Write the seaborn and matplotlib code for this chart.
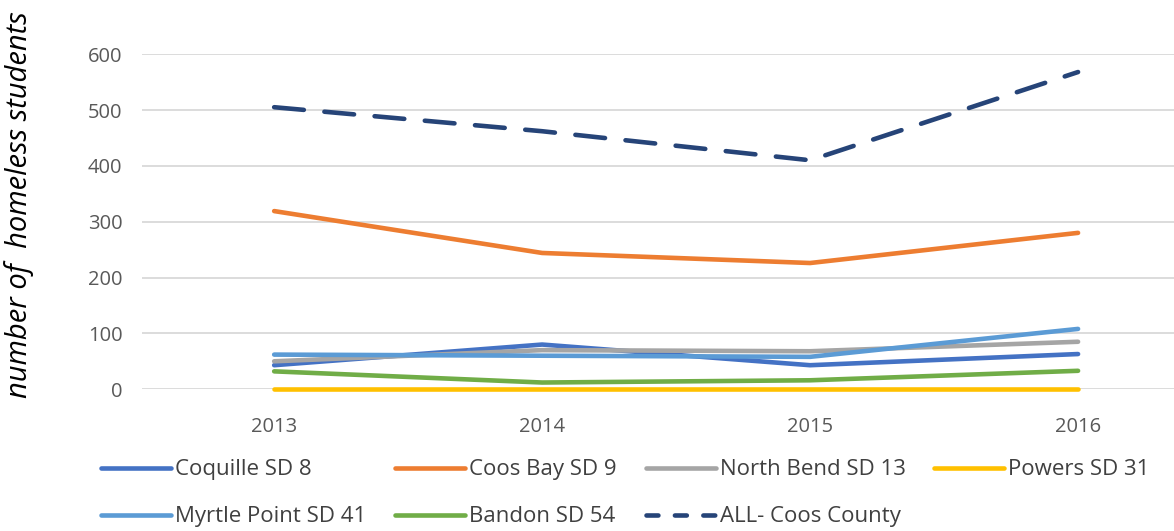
import numpy as np
import pandas as pd
import matplotlib
matplotlib.use('Agg')
import matplotlib.pyplot as plt
import seaborn as sns
from matplotlib.lines import Line2D

# =====================
# DATA
# =====================
years = ['2013', '2014', '2015', '2016']
coquille = [43, 80, 43, 63]
coos_bay = [319, 244, 226, 280]
north_bend = [50, 70, 68, 85]
powers = [1, 1, 1, 1]
myrtle_point = [62, 60, 58, 108]
bandon = [32, 12, 16, 33]
all_coos = [505, 462, 410, 568]

series_names = ['Coquille SD 8', 'Coos Bay SD 9', 'North Bend SD 13', 'Powers SD 31',
                'Myrtle Point SD 41', 'Bandon SD 54', 'ALL- Coos County']
series_values = [coquille, coos_bay, north_bend, powers, myrtle_point, bandon, all_coos]
colors = ['#4472C4', '#ED7D31', '#A5A5A5', '#FFC000', '#5B9BD5', '#70AD47', '#264478']

rows = []
for name, vals in zip(series_names, series_values):
    for i, (yr, v) in enumerate(zip(years, vals)):
        rows.append({'year': yr, 'pos': i, 'district': name, 'students': v})
df = pd.DataFrame(rows)

# =====================
# STYLE
# =====================
sns.set_theme(style='white')
plt.rcParams['font.family'] = ['Open Sans', 'DejaVu Sans']

fig = plt.figure(figsize=(11.74, 5.31), dpi=100)
ax = fig.add_axes([0.121, 0.267, 0.879, 0.631])

palette = dict(zip(series_names, colors))
dashes = {n: '' for n in series_names}
dashes['ALL- Coos County'] = (6.5, 4.5)

sns.lineplot(data=df, x='pos', y='students', hue='district', style='district',
             palette=palette, dashes=dashes, linewidth=3.3, ax=ax, legend=False)
for line in ax.get_lines():
    line.set_solid_capstyle('round')
    line.set_dash_capstyle('round')
    line.set_clip_on(False)

ax.set_xlim(-0.493, 3.358)
ax.set_ylim(0, 600)
ax.set_yticks([0, 100, 200, 300, 400, 500, 600])
ax.set_xticks(range(len(years)))
ax.set_xticklabels(years)
ax.tick_params(axis='both', length=0, labelsize=14.5, labelcolor='#595959')
ax.tick_params(axis='x', pad=20)
ax.tick_params(axis='y', pad=14)
ax.yaxis.grid(True, color='#D9D9D9', linewidth=1.3)
ax.set_axisbelow(True)
for s in ax.spines.values():
    s.set_visible(False)
ax.set_xlabel('')
ax.set_ylabel('number of  homeless students', fontsize=21, style='italic',
              color='black')
ax.yaxis.set_label_coords(-0.105, 0.55)

# legend, row-major order via column-major reordering
handles = []
for n, c in zip(series_names, colors):
    if n == 'ALL- Coos County':
        h = Line2D([], [], color=c, linewidth=3.3, dashes=(2.6, 3.6),
                   dash_capstyle='round')
    else:
        h = Line2D([], [], color=c, linewidth=3.3, solid_capstyle='round')
    handles.append(h)
order = [0, 4, 1, 5, 2, 6, 3]
fig.legend([handles[i] for i in order], [series_names[i] for i in order],
           loc='lower left', bbox_to_anchor=(0.069, -0.031), ncol=4, frameon=False,
           prop={'size': 16}, labelcolor='#404040',
           handlelength=3.15, handletextpad=0.18, columnspacing=1.3, labelspacing=1.17)

fig.savefig('out.png', dpi=100)
